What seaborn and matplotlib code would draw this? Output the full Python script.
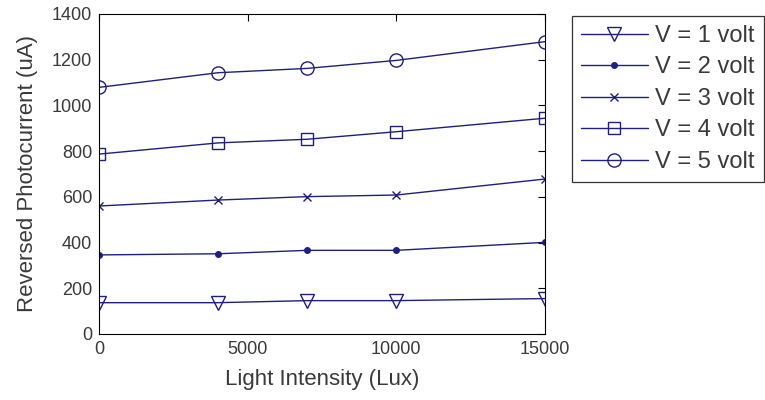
import pandas as pd
import matplotlib
matplotlib.use("Agg")
import matplotlib.pyplot as plt
import seaborn as sns

sns.set_style("white")
plt.rcParams["font.family"] = ["Liberation Sans", "DejaVu Sans"]

# -----------------------------
# Data
# -----------------------------

lux = [0, 4000, 7000, 10000, 15000]
v1 = [137, 137, 146, 146, 155]
v2 = [346, 351, 366, 366, 401]
v3 = [560, 586, 601, 608, 678]
v4 = [787, 836, 852, 885, 944]
v5 = [1079, 1143, 1162, 1197, 1279]
labels = ["V = 1 volt", "V = 2 volt", "V = 3 volt", "V = 4 volt", "V = 5 volt"]

series = [v1, v2, v3, v4, v5]
df = pd.concat(
    [pd.DataFrame({"Lux": lux, "Current": s, "Voltage": lab}) for s, lab in zip(series, labels)],
    ignore_index=True,
)

NAVY = "#1f1f7e"
TXT = "#3a3a3a"
styles = {
    "V = 1 volt": dict(marker="v", markersize=10, mfc="none"),
    "V = 2 volt": dict(marker=".", markersize=8, mfc=NAVY),
    "V = 3 volt": dict(marker="x", markersize=6, mfc=NAVY),
    "V = 4 volt": dict(marker="s", markersize=9, mfc="none"),
    "V = 5 volt": dict(marker="o", markersize=9.5, mfc="none"),
}

fig = plt.figure(figsize=(7.65, 4), dpi=100)
ax = fig.add_axes([0.1294, 0.165, 0.583, 0.80])

for lab in labels:
    sub = df[df["Voltage"] == lab]
    sns.lineplot(data=sub, x="Lux", y="Current", ax=ax, color=NAVY, lw=1.0,
                 mec=NAVY, mew=1.0, label=lab, **styles[lab])

ax.set_xlim(0, 15000)
ax.set_ylim(0, 1400)
ax.set_xticks([0, 5000, 10000, 15000])
ax.set_yticks(range(0, 1401, 200))
ax.set_xlabel("Light Intensity (Lux)", fontsize=16, color=TXT, labelpad=8)
ax.set_ylabel("Reversed Photocurrent (uA)", fontsize=16, color=TXT, labelpad=10)
ax.tick_params(direction="in", length=5, top=True, right=True, labelsize=13,
               labelcolor=TXT, color="black", width=0.8, pad=5)
for sp in ax.spines.values():
    sp.set_visible(True)
    sp.set_color("black")
    sp.set_linewidth(0.8)

leg = ax.legend(loc="upper left", bbox_to_anchor=(0.7477, 0.961),
                bbox_transform=fig.transFigure, fontsize=17, frameon=True,
                fancybox=False, edgecolor="black", handlelength=2.8,
                labelspacing=0.4, borderpad=0.4, handletextpad=0.3,
                borderaxespad=0)
leg.get_frame().set_linewidth(0.9)
for t in leg.get_texts():
    t.set_color(TXT)

fig.savefig("out.png", dpi=100)
plt.close()
